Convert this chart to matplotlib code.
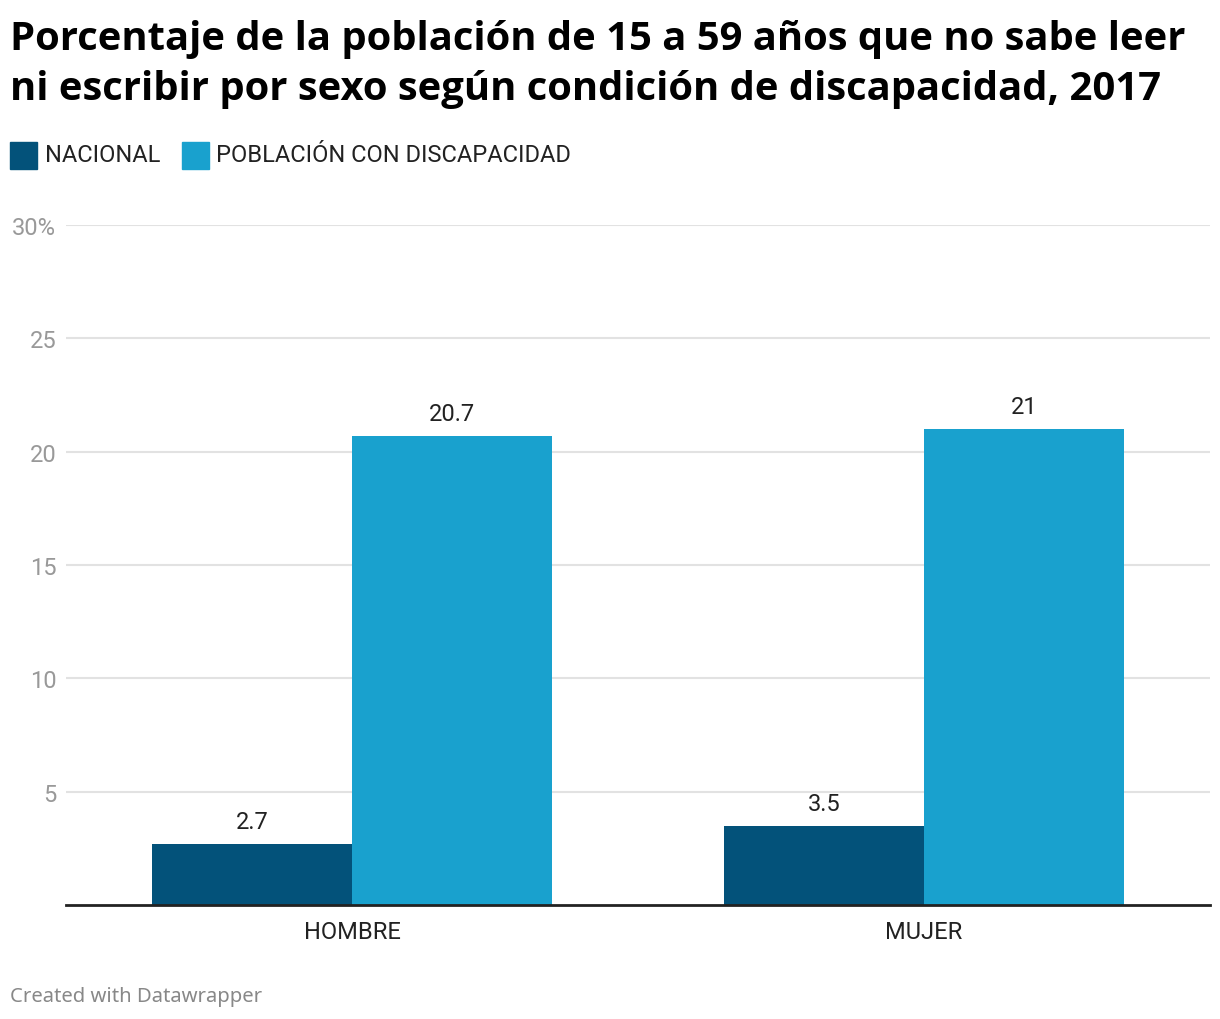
import numpy as np
import matplotlib.pyplot as plt
from matplotlib.patches import Rectangle

# datos
categorias = ['HOMBRE', 'MUJER']
series = ['NACIONAL', 'POBLACIÓN CON DISCAPACIDAD']
nacional = [2.7, 3.5]
discapacidad = [20.7, 21]
etiquetas_nac = ['2.7', '3.5']
etiquetas_dis = ['20.7', '21']
yticks = [5, 10, 15, 20, 25, 30]
ytick_labels = ['5', '10', '15', '20', '25', '30%']

colores = ['#03527a', '#19a1ce']

W, H = 1220, 1020
fig = plt.figure(figsize=(W/100, H/100), dpi=100)

def fx(px):
    return px / W

def fy(py):
    return 1 - py / H

ax = fig.add_axes([fx(66), fy(906), fx(1210) - fx(66), fy(226) - fy(906)])

x = np.arange(len(categorias))
w = 0.35
b1 = ax.bar(x - w/2, nacional, w, color=colores[0])
b2 = ax.bar(x + w/2, discapacidad, w, color=colores[1])

for bars, labs in [(b1, etiquetas_nac), (b2, etiquetas_dis)]:
    for bar, lab in zip(bars, labs):
        ax.annotate(lab, (bar.get_x() + bar.get_width()/2, bar.get_height()),
                    xytext=(0, 8), textcoords='offset points',
                    ha='center', va='bottom', fontsize=17, color='#222222',
                    family='Roboto')

ax.set_xlim(-0.5, 1.5)
ax.set_ylim(0, 30)
ax.set_yticks(yticks)
ax.set_yticklabels(ytick_labels)
ax.set_xticks(x)
ax.set_xticklabels(categorias)
ax.tick_params(axis='y', length=0, pad=7, labelsize=17, labelcolor='#999999')
ax.tick_params(axis='x', length=0, pad=11, labelsize=17, labelcolor='#222222')
for lab in ax.get_xticklabels() + ax.get_yticklabels():
    lab.set_family('Roboto')

ax.grid(axis='y', color='#e2e2e2', linewidth=1.5)
ax.set_axisbelow(True)
for s in ['top', 'right', 'left']:
    ax.spines[s].set_visible(False)
ax.spines['bottom'].set_color('#222222')
ax.spines['bottom'].set_linewidth(2)
ax.spines['bottom'].set_zorder(5)

# titulo
fig.text(fx(10), fy(20), 'Porcentaje de la población de 15 a 59 años que no sabe leer\n'
         'ni escribir por sexo según condición de discapacidad, 2017',
         ha='left', va='top', fontsize=28.8, fontweight='bold', family='Open Sans',
         color='#000000', linespacing=1.36)

# leyenda
lx = 10
for nombre, c, tx in zip(series, colores, [45, 216]):
    fig.add_artist(Rectangle((fx(lx), fy(170)), fx(27), fy(143) - fy(170),
                             transform=fig.transFigure, color=c))
    fig.text(fx(tx), fy(156), nombre, ha='left', va='center', fontsize=17,
             family='Roboto', color='#222222')
    lx = 182

fig.text(fx(10), fy(997), 'Created with Datawrapper', ha='left', va='center',
         fontsize=14.6, family='Noto Sans', color='#888888')

fig.savefig('out.png', dpi=100)
